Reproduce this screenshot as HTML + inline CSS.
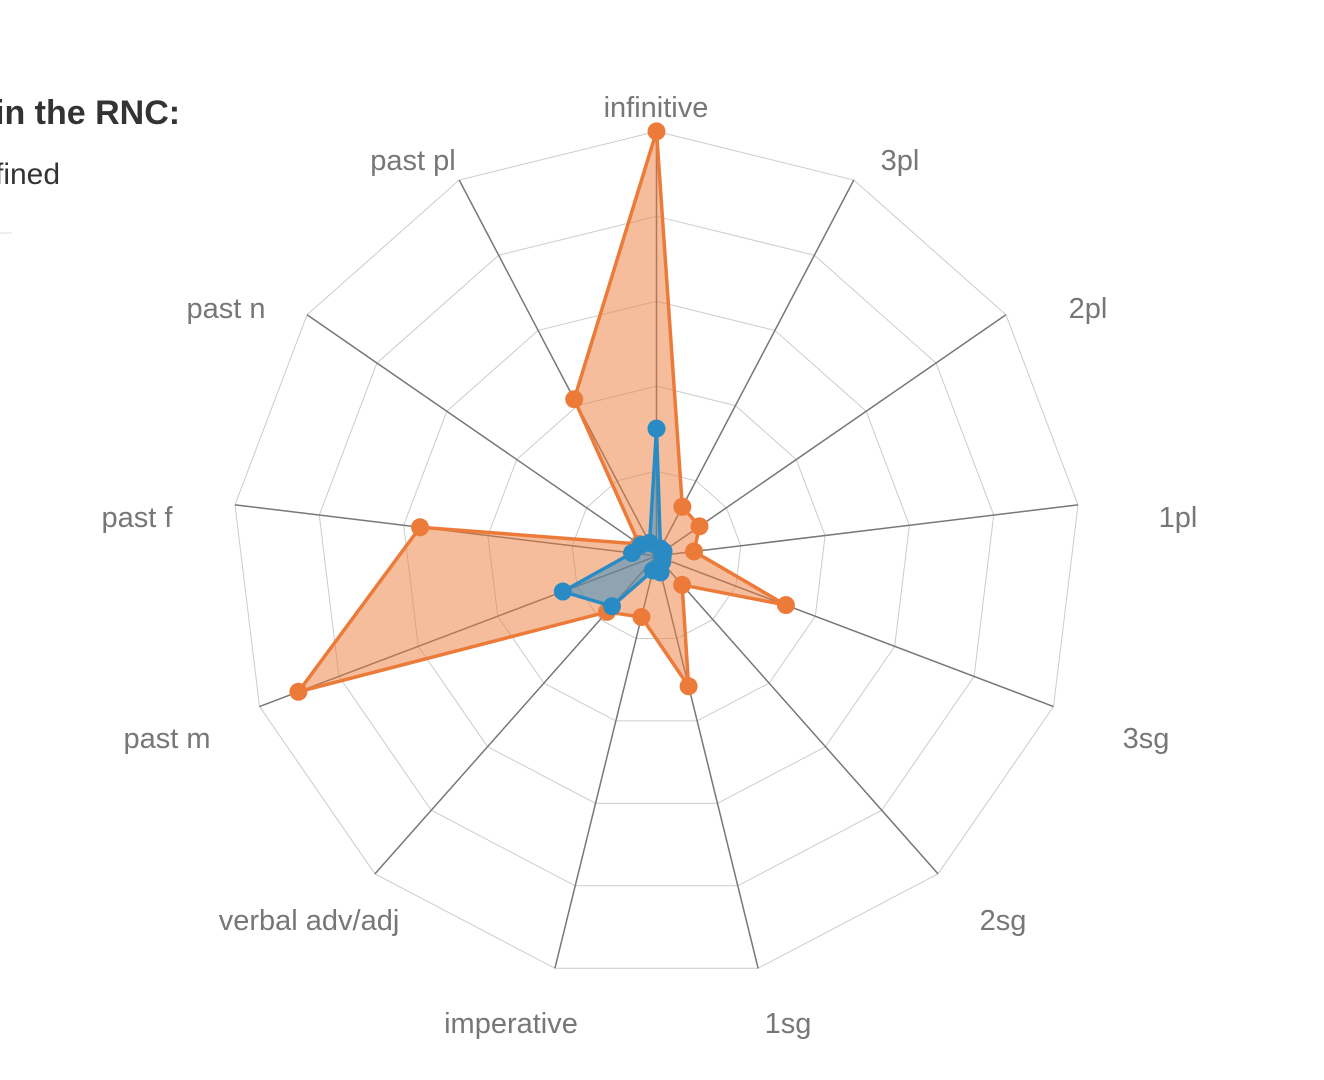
<!DOCTYPE html>
<html><head><meta charset="utf-8"><style>
html,body{margin:0;padding:0;background:#fff;width:1324px;height:1080px;overflow:hidden}
svg{display:block}
text{font-family:"Liberation Sans",Arial,sans-serif}
</style></head><body>
<svg id="chart" width="1324" height="1080">
<g>
<text x="-5" y="124" font-size="34" font-weight="bold" fill="#333">in the RNC:</text>
<text x="-5" y="184" font-size="30" fill="#333">fined</text>
<line x1="0" y1="233" x2="12" y2="233" stroke="#ddd" stroke-width="1"/>
</g>
<g id="grid"></g><g id="series"></g><g id="labels"></g>
</svg>
<script>
const categories=["infinitive","3pl","2pl","1pl","3sg","2sg","1sg","imperative","verbal adv/adj","past m","past f","past n","past pl"];
const orangeValues=[1.0,0.131,0.123,0.089,0.326,0.091,0.316,0.148,0.176,0.902,0.561,0.05,0.417];
const blueValues=[0.30,0.02,0.02,0.015,0.015,0.02,0.04,0.035,0.158,0.236,0.058,0.045,0.035];
const ringLevels=[0.2,0.4,0.6,0.8,1.0];
const labelPos=[[656,107],[900,160],[1088,308],[1178,517],[1146,738],[1003,920],[788,1023],[511,1023],[309,920],[167,738],[137,517],[226,308],[413,160]];
const NS="http://www.w3.org/2000/svg";
const cx=656.5,cy=556,R=424.6,n=categories.length;
function pt(i,v){const a=i*2*Math.PI/n;return [cx+R*v*Math.sin(a),cy-R*v*Math.cos(a)];}
function mk(tag,attrs,parent){const e=document.createElementNS(NS,tag);for(const k in attrs)e.setAttribute(k,attrs[k]);parent.appendChild(e);return e;}
const grid=document.getElementById('grid'),ser=document.getElementById('series'),lab=document.getElementById('labels');
ringLevels.forEach(l=>{
 const p=categories.map((c,i)=>pt(i,l).join(',')).join(' ');
 const e=mk('polygon',{points:p,fill:'none',stroke:'#ccc','stroke-width':1},grid);
 
 
});
categories.forEach((c,i)=>{
 const [x,y]=pt(i,1);
 const e=mk('line',{x1:cx,y1:cy,x2:x,y2:y,stroke:'#777','stroke-width':1.5},grid);
 
 
 const t=mk('text',{x:labelPos[i][0],y:labelPos[i][1]+10,'font-size':29,fill:'#777','text-anchor':'middle'},lab);
 t.textContent=c;
 
 
});
function series(vals,color,fill,name){
 const p=vals.map((v,i)=>pt(i,v).join(',')).join(' ');
 const poly=mk('polygon',{points:p,fill:fill,stroke:color,'stroke-width':3.5,'stroke-linejoin':'round'},ser);
 
 
 vals.forEach((v,i)=>{
  const [x,y]=pt(i,v);
  const d=mk('circle',{cx:x,cy:y,r:9,fill:color},ser);
  
  
 });
}
series(orangeValues,'#ec7b3a','rgba(236,123,58,0.5)','orange-series');
series(blueValues,'#2a8bc4','rgba(42,139,196,0.5)','blue-series');
</script>
</body></html>
